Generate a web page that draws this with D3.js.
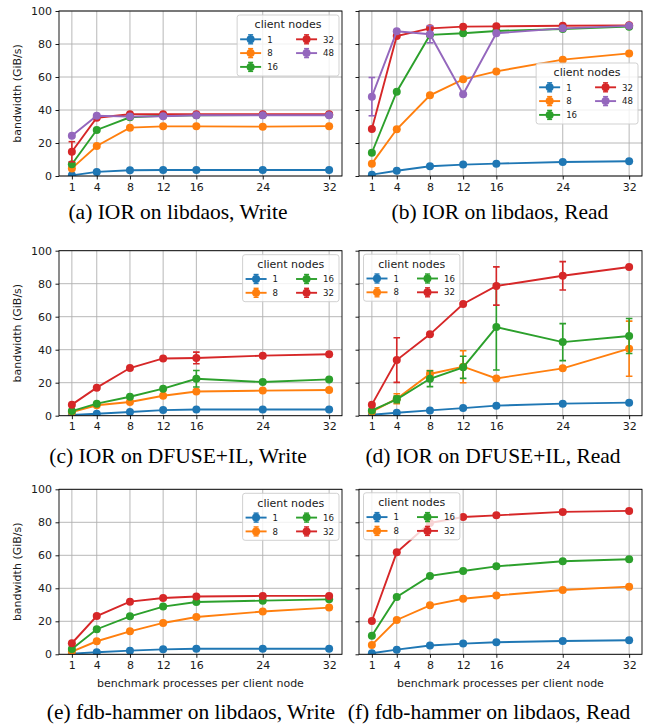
<!DOCTYPE html>
<html><head><meta charset="utf-8">
<script src="https://cdn.jsdelivr.net/npm/d3@7"></script>
<style>body{margin:0;background:#fff} svg{display:block}</style>
</head><body><svg id="c" width="651" height="725"></svg>
<script>
const xTicks = [1, 4, 8, 12, 16, 24, 32];
const yTicks = [0, 20, 40, 60, 80, 100];
const nodes5 = ["1", "8", "16", "32", "48"];
const nodes4 = ["1", "8", "16", "32"];
const seriesColors = ["#1f77b4", "#ff7f0e", "#2ca02c", "#d62728", "#9467bd"];

// (a) IOR on libdaos, Write
const iorLibdaosWrite = [
  [0.4, 2.5, 3.5, 3.6, 3.6, 3.6, 3.6],
  [4.6, 18.2, 29.3, 30.1, 30.1, 29.9, 30.2],
  [7.1, 27.9, 35.6, 36.5, 36.8, 37.0, 37.0],
  [14.7, 35.3, 37.4, 37.5, 37.5, 37.5, 37.5],
  [24.4, 36.5, 36.0, 36.2, 36.8, 36.8, 36.8]
];
const iorLibdaosWriteErr = [
  [0, 0, 0, 0, 0, 0, 0],
  [0, 0, 0, 0, 0, 0, 0],
  [0, 0, 0, 0, 0, 0, 0],
  [6.1, 0, 0, 0, 0, 0, 0],
  [0, 0, 0, 0, 0, 0, 0]
];
// (b) IOR on libdaos, Read
const iorLibdaosRead = [
  [0.8, 3.2, 5.9, 6.9, 7.5, 8.5, 8.9],
  [7.5, 28.3, 48.9, 58.6, 63.4, 70.5, 74.3],
  [14.1, 51.1, 85.5, 86.5, 87.9, 89.1, 90.5],
  [28.5, 84.8, 89.5, 90.5, 90.7, 91.1, 91.3],
  [48.1, 87.7, 85.9, 49.5, 86.5, 89.5, 91.0]
];
const iorLibdaosReadErr = [
  [0, 0, 0, 0, 0, 0, 0],
  [0, 0, 0, 0, 0, 0, 0],
  [0, 0, 0, 0, 0, 0, 0],
  [0, 0, 0, 0, 0, 0, 0],
  [11.6, 0, 5.2, 0, 0, 0, 0]
];
// (c) IOR on DFUSE+IL, Write
const iorDfuseWrite = [
  [0.4, 1.2, 2.2, 3.4, 3.8, 3.8, 3.8],
  [2.2, 6.3, 8.3, 12.1, 14.7, 15.2, 15.6],
  [2.8, 7.3, 11.5, 16.4, 22.4, 20.4, 22.0],
  [6.7, 17.0, 28.9, 34.7, 35.0, 36.4, 37.2]
];
const iorDfuseWriteErr = [
  [0, 0, 0, 0, 0, 0, 0],
  [0, 0, 0, 0, 0, 0, 0],
  [0, 0, 0, 0, 5.0, 0, 0],
  [0, 0, 0, 0, 3.5, 0, 0]
];
// (d) IOR on DFUSE+IL, Read
const iorDfuseRead = [
  [0.6, 1.8, 3.2, 4.6, 6.1, 7.3, 7.9],
  [2.4, 10.3, 25.3, 29.7, 22.6, 28.7, 40.6],
  [3.2, 9.9, 22.4, 29.3, 53.7, 44.6, 48.3],
  [6.7, 33.7, 49.3, 67.7, 78.6, 84.8, 90.1]
];
const iorDfuseReadErr = [
  [0, 0, 0, 0, 0, 0, 0],
  [0, 3.0, 2.0, 9.7, 0, 0, 16.7],
  [0, 2.0, 4.8, 6.7, 26.0, 11.2, 10.6],
  [0, 13.5, 0, 0, 11.6, 8.6, 0]
];
// (e) fdb-hammer on libdaos, Write
const fdbWrite = [
  [0.4, 1.2, 2.2, 3.0, 3.4, 3.4, 3.4],
  [1.6, 7.9, 13.9, 19.0, 22.6, 25.9, 28.3],
  [3.2, 15.2, 23.0, 28.9, 31.7, 32.5, 33.3],
  [6.7, 23.2, 31.9, 34.1, 35.0, 35.4, 35.4]
];
// (f) fdb-hammer on libdaos, Read
const fdbRead = [
  [0.6, 2.8, 5.3, 6.5, 7.3, 8.1, 8.5],
  [5.7, 20.8, 29.7, 33.7, 35.6, 39.0, 41.0],
  [11.3, 34.7, 47.5, 50.5, 53.3, 56.4, 57.6],
  [20.2, 61.8, 79.6, 83.2, 84.2, 86.3, 86.9]
];
const zeroErr4 = [
  [0, 0, 0, 0, 0, 0, 0], [0, 0, 0, 0, 0, 0, 0],
  [0, 0, 0, 0, 0, 0, 0], [0, 0, 0, 0, 0, 0, 0]
];

const captions = [
  "(a) IOR on libdaos, Write", "(b) IOR on libdaos, Read",
  "(c) IOR on DFUSE+IL, Write", "(d) IOR on DFUSE+IL, Read",
  "(e) fdb-hammer on libdaos, Write", "(f) fdb-hammer on libdaos, Read"
];

const panels = [
  {data: iorLibdaosWrite, err: iorLibdaosWriteErr, nodes: nodes5, col: 0, row: 0, legend: "ur", cap: [178, 219]},
  {data: iorLibdaosRead, err: iorLibdaosReadErr, nodes: nodes5, col: 1, row: 0, legend: "cr", cap: [500, 219]},
  {data: iorDfuseWrite, err: iorDfuseWriteErr, nodes: nodes4, col: 0, row: 1, legend: "ur", cap: [178, 463]},
  {data: iorDfuseRead, err: iorDfuseReadErr, nodes: nodes4, col: 1, row: 1, legend: "ul", cap: [493, 463]},
  {data: fdbWrite, err: zeroErr4, nodes: nodes4, col: 0, row: 2, legend: "ur", cap: [191, 719]},
  {data: fdbRead, err: zeroErr4, nodes: nodes4, col: 1, row: 2, legend: "ul", cap: [489, 719]}
];

const colX = [59, 359], rowY = [11, 250.7, 489.3];
const W = 283, H = 165;
const FONT = "'DejaVu Sans', sans-serif";

const svg = d3.select("#c");

panels.forEach((p, pi) => {
  const x0 = colX[p.col], y0 = rowY[p.row];
  const g = svg.append("g").attr("transform", `translate(${x0},${y0})`);
  const x = d3.scaleLinear().domain([-0.55, 33.55]).range([0, W]);
  const y = d3.scaleLinear().domain([0, 100]).range([H, 0]);

  // grid
  g.append("g").selectAll("line").data(xTicks).join("line")
    .attr("x1", d => x(d)).attr("x2", d => x(d)).attr("y1", 0).attr("y2", H)
    .attr("stroke", "#b0b0b0").attr("stroke-width", 0.9);
  g.append("g").selectAll("line").data(yTicks).join("line")
    .attr("y1", d => y(d)).attr("y2", d => y(d)).attr("x1", 0).attr("x2", W)
    .attr("stroke", "#b0b0b0").attr("stroke-width", 0.9);

  const clipId = "clip" + pi;
  g.append("clipPath").attr("id", clipId).append("rect")
    .attr("x", 0).attr("y", 0).attr("width", W).attr("height", H);
  const plot = g.append("g").attr("clip-path", `url(#${clipId})`);

  p.data.forEach((vals, si) => {
    const color = seriesColors[si];
    const errs = p.err[si];
    const pts = vals.map((v, i) => ({x: xTicks[i], v, e: errs[i]}));
    const sg = plot.append("g");
    const eb = pts.filter(d => d.e > 0);
    sg.selectAll("line.eb").data(eb).join("line")
      .attr("x1", d => x(d.x)).attr("x2", d => x(d.x))
      .attr("y1", d => y(d.v - d.e)).attr("y2", d => y(d.v + d.e))
      .attr("stroke", color).attr("stroke-width", 1.6);
    [-1, 1].forEach(s => {
      sg.selectAll("line.cap" + s).data(eb).join("line")
        .attr("x1", d => x(d.x) - 3.3).attr("x2", d => x(d.x) + 3.3)
        .attr("y1", d => y(d.v + s * d.e)).attr("y2", d => y(d.v + s * d.e))
        .attr("stroke", color).attr("stroke-width", 1.6);
    });
    sg.append("path").datum(pts)
      .attr("d", d3.line().x(d => x(d.x)).y(d => y(d.v)))
      .attr("fill", "none").attr("stroke", color).attr("stroke-width", 1.9);
    sg.selectAll("circle").data(pts).join("circle")
      .attr("cx", d => x(d.x)).attr("cy", d => y(d.v)).attr("r", 4)
      .attr("fill", color);
  });

  // axes
  const xa = g.append("g").attr("transform", `translate(0,${H})`)
    .call(d3.axisBottom(x).tickValues(xTicks).tickSize(3.5).tickPadding(3.5).tickFormat(d3.format("d")));
  const ya = g.append("g")
    .call(d3.axisLeft(y).tickValues(yTicks).tickSize(3.5).tickPadding(3.5)
      .tickFormat(p.col === 0 ? d3.format("d") : () => ""));
  [xa, ya].forEach(a => {
    a.select(".domain").remove();
    a.selectAll("text").attr("font-family", FONT).attr("font-size", 11).attr("fill", "#1a1a1a");
    a.selectAll("line").attr("stroke", "#000").attr("stroke-width", 0.9);
  });
  g.append("rect").attr("x", 0).attr("y", 0).attr("width", W).attr("height", H)
    .attr("fill", "none").attr("stroke", "#000").attr("stroke-width", 0.9);

  if (p.col === 0) {
    g.append("text").attr("transform", `translate(${-38},${H / 2}) rotate(-90)`)
      .attr("text-anchor", "middle").attr("font-family", FONT).attr("font-size", 11)
      .attr("fill", "#1a1a1a").text("bandwidth (GiB/s)");
  }
  if (p.row === 2) {
    g.append("text").attr("x", W / 2).attr("y", H + 33)
      .attr("text-anchor", "middle").attr("font-family", FONT).attr("font-size", 11)
      .attr("fill", "#1a1a1a").text("benchmark processes per client node");
  }

  // legend
  const n = p.nodes.length;
  const nCol1 = Math.ceil(n / 2);
  const lg = g.append("g");
  const meas = lg.append("text").attr("font-family", FONT).attr("font-size", 8.6);
  const widthOf = s => { meas.text(s); return meas.node().getComputedTextLength(); };
  const col1W = d3.max(p.nodes.slice(0, nCol1), widthOf);
  const col2W = d3.max(p.nodes.slice(nCol1), widthOf);
  meas.remove();
  const col2X = 30 + col1W + 18;
  const lw = col2X + 27 + col2W + 5;
  const lh = nCol1 === 3 ? 61 : 47;
  let lx, ly;
  if (p.legend === "ur") { lx = W - 3 - lw; ly = 4; }
  else if (p.legend === "ul") { lx = 4.5; ly = 3.5; }
  else { lx = W - 4 - lw; ly = H / 2 - lh / 2; }
  lg.attr("transform", `translate(${lx},${ly})`);
  lg.append("rect").attr("width", lw).attr("height", lh).attr("rx", 2.5)
    .attr("fill", "#fff").attr("fill-opacity", 0.8)
    .attr("stroke", "#cccccc").attr("stroke-width", 0.9);
  lg.append("text").attr("x", lw / 2).attr("y", 13.4).attr("text-anchor", "middle")
    .attr("font-family", FONT).attr("font-size", 11).attr("fill", "#1a1a1a").text("client nodes");
  p.nodes.forEach((lab, i) => {
    const c = i < nCol1 ? 0 : 1;
    const r = c === 0 ? i : i - nCol1;
    const hx = c === 0 ? 3 : col2X;
    const cy = 24.3 + r * 13.8;
    const color = seriesColors[i];
    const it = lg.append("g");
    it.append("line").attr("x1", hx).attr("x2", hx + 21).attr("y1", cy).attr("y2", cy)
      .attr("stroke", color).attr("stroke-width", 1.9);
    it.append("line").attr("x1", hx + 10.5).attr("x2", hx + 10.5).attr("y1", cy - 4.5).attr("y2", cy + 4.5)
      .attr("stroke", color).attr("stroke-width", 1.4);
    [-4.5, 4.5].forEach(o => it.append("line").attr("x1", hx + 8).attr("x2", hx + 13)
      .attr("y1", cy + o).attr("y2", cy + o).attr("stroke", color).attr("stroke-width", 1.4));
    it.append("circle").attr("cx", hx + 10.5).attr("cy", cy).attr("r", 4).attr("fill", color);
    it.append("text").attr("x", hx + 27).attr("y", cy + 3.2)
      .attr("font-family", FONT).attr("font-size", 8.6).attr("fill", "#1a1a1a").text(lab);
  });

  // caption
  svg.append("text").attr("x", p.cap[0]).attr("y", p.cap[1]).attr("text-anchor", "middle")
    .attr("font-family", "'Liberation Serif', 'Times New Roman', serif").attr("font-size", 21.5)
    .attr("fill", "#000").text(captions[pi]);
});
</script>
</body></html>
